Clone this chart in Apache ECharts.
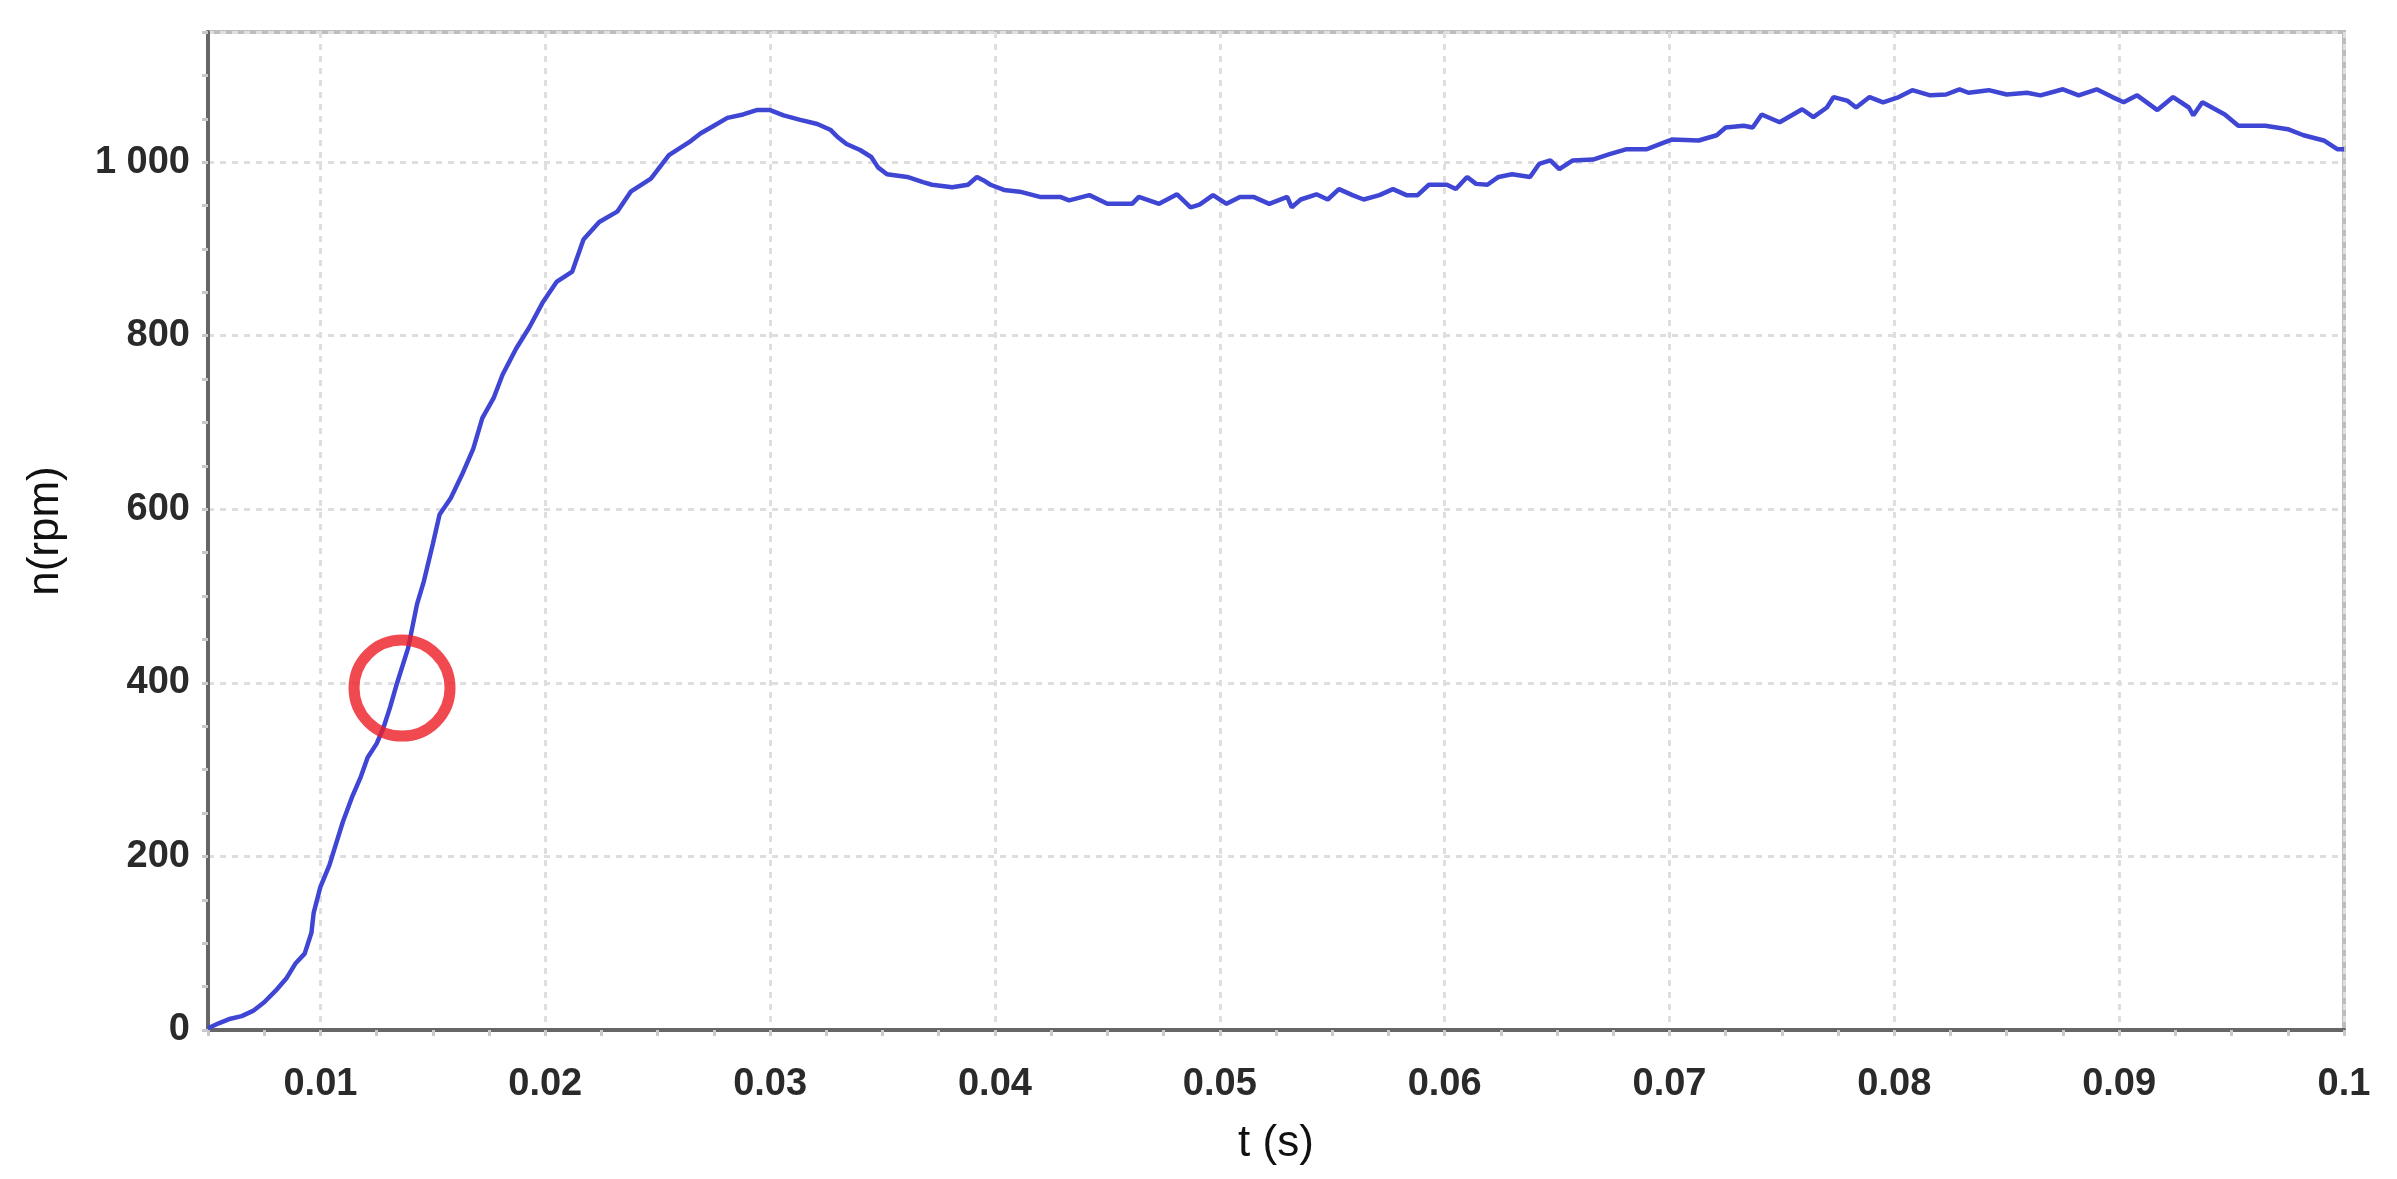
<!DOCTYPE html>
<html>
<head>
<meta charset="utf-8">
<script src="https://cdn.jsdelivr.net/npm/echarts@6/dist/echarts.min.js"></script>
<style>
  html, body { margin: 0; padding: 0; background: #fff; }
  #chart { width: 2397px; height: 1179px; }
</style>
</head>
<body>
<div id="chart"></div>
<script>
// time (s) and speed (rpm)
const tValues = [
  0.0050, 0.0055, 0.0060, 0.0065, 0.0070, 0.0075, 0.0080, 0.0085, 0.0089, 0.0093,
  0.0096, 0.0097, 0.0100, 0.0104, 0.0107, 0.0110, 0.0114, 0.0118, 0.0121, 0.0125,
  0.0128, 0.0131, 0.0134, 0.0139, 0.0143, 0.0146, 0.0150, 0.0153, 0.0158, 0.0163,
  0.0168, 0.0172, 0.0177, 0.0181, 0.0187, 0.0193, 0.0199, 0.0205, 0.0212, 0.0217,
  0.0224, 0.0232, 0.0238, 0.0247, 0.0255, 0.0264, 0.0269, 0.0275, 0.0281, 0.0288,
  0.0294, 0.0300, 0.0306, 0.0313, 0.0321, 0.0327, 0.0330, 0.0334, 0.0340, 0.0345,
  0.0348, 0.0352, 0.0361, 0.0368, 0.0372, 0.0381, 0.0388, 0.0392, 0.0395, 0.0398,
  0.0404, 0.0411, 0.0420, 0.0429, 0.0433, 0.0442, 0.0450, 0.0461, 0.0464, 0.0473,
  0.0481, 0.0487, 0.0491, 0.0497, 0.0503, 0.0509, 0.0515, 0.0522, 0.0530, 0.0532,
  0.0536, 0.0543, 0.0548, 0.0553, 0.0559, 0.0564, 0.0571, 0.0577, 0.0583, 0.0588,
  0.0593, 0.0601, 0.0605, 0.0610, 0.0614, 0.0619, 0.0624, 0.0630, 0.0638, 0.0642,
  0.0647, 0.0651, 0.0657, 0.0666, 0.0673, 0.0681, 0.0690, 0.0696, 0.0701, 0.0713,
  0.0721, 0.0725, 0.0733, 0.0737, 0.0741, 0.0749, 0.0755, 0.0759, 0.0764, 0.0770,
  0.0773, 0.0779, 0.0783, 0.0789, 0.0795, 0.0802, 0.0808, 0.0816, 0.0823, 0.0829,
  0.0833, 0.0842, 0.0850, 0.0859, 0.0865, 0.0875, 0.0882, 0.0890, 0.0897, 0.0902,
  0.0908, 0.0917, 0.0924, 0.0931, 0.0933, 0.0937, 0.0947, 0.0953, 0.0965, 0.0975,
  0.0982, 0.0991, 0.0997, 0.1000
]
const nValues = [
  2, 8, 13, 16, 22, 32, 45, 60, 77, 88,
  112, 135, 165, 190, 215, 240, 268, 292, 314, 330,
  348, 372, 399, 440, 491, 517, 560, 594, 613, 640,
  670, 705, 728, 755, 785, 810, 839, 862, 874, 911,
  931, 943, 966, 981, 1008, 1023, 1033, 1042, 1051, 1055,
  1060, 1060, 1054, 1049, 1044, 1037, 1029, 1021, 1014, 1006,
  994, 986, 983, 977, 974, 971, 974, 983, 979, 974,
  968, 966, 960, 960, 956, 962, 952, 952, 960, 952,
  963, 948, 951, 962, 952, 960, 960, 952, 960, 948,
  957, 963, 957, 969, 962, 957, 962, 969, 962, 962,
  974, 974, 969, 983, 975, 974, 983, 986, 983, 998,
  1002, 992, 1002, 1003, 1009, 1015, 1015, 1021, 1026, 1025,
  1031, 1040, 1042, 1040, 1055, 1046, 1055, 1061, 1052, 1063,
  1075, 1071, 1063, 1075, 1069, 1075, 1083, 1077, 1078, 1084,
  1080, 1083, 1078, 1080, 1077, 1084, 1077, 1084, 1075, 1069,
  1077, 1060, 1075, 1063, 1054, 1069, 1055, 1042, 1042, 1038,
  1031, 1025, 1015, 1015
]
// red marker circle around the point of interest
const circleMark = [[0.01363, 394]]

const xRange = [0.005, 0.1]
const yRange = [0, 1150]
const yStep = 200

const chart = echarts.init(document.getElementById('chart'), null, { renderer: 'canvas' })

const tickFont = { color: '#2a2a2a', fontSize: 38, fontWeight: 'bold', fontFamily: 'Liberation Sans' }
const gridLine = { show: true, lineStyle: { color: '#dedede', width: 3, type: [6, 6] } }
const minor = { show: true, splitNumber: 4, length: 6, lineStyle: { color: '#c8c8c8', width: 3 } }

chart.setOption({
  animation: false,
  backgroundColor: '#fff',
  grid: {
    left: 208, right: 53, top: 32, bottom: 149,
    show: true, borderColor: '#bdbdbd', borderWidth: 4,
  },
  xAxis: [{
    type: 'value',
    min: xRange[0],
    max: xRange[1],
    splitNumber: 10,
    name: 't (s)',
    nameLocation: 'middle',
    nameGap: 92,
    nameTextStyle: { color: '#111', fontSize: 44, fontFamily: 'Liberation Sans' },
    axisLine: { show: true, onZero: false, lineStyle: { color: '#666', width: 4 } },
    axisTick: { show: true, length: 6, lineStyle: { color: '#c8c8c8', width: 3 } },
    minorTick: minor,
    axisLabel: { ...tickFont, margin: 36, showMinLabel: false },
    splitLine: gridLine,
  }, {
    type: 'value',
    position: 'top',
    min: xRange[0],
    max: xRange[1],
    axisLine: { show: true, lineStyle: { color: '#666', width: 4 } },
    axisTick: { show: false },
    axisLabel: { show: false },
    splitLine: { show: false },
  }],
  yAxis: {
    type: 'value',
    min: yRange[0],
    max: yRange[1],
    interval: yStep,
    name: 'n(rpm)',
    nameLocation: 'middle',
    nameGap: 140,
    nameTextStyle: { color: '#111', fontSize: 44, fontFamily: 'Liberation Sans' },
    axisLine: { show: true, onZero: false, lineStyle: { color: '#666', width: 4 } },
    axisTick: { show: true, length: 6, lineStyle: { color: '#c8c8c8', width: 3 } },
    minorTick: minor,
    axisLabel: {
      ...tickFont,
      margin: 18,
      showMaxLabel: false,
      formatter: v => String(v).replace(/\B(?=(\d{3})+(?!\d))/g, ' '),
    },
    splitLine: gridLine,
  },
  series: [{
    type: 'line',
    data: tValues.map((t, i) => [t, nValues[i]]),
    showSymbol: false,
    lineStyle: { color: '#4046d4', width: 4.5 },
    z: 3,
  }, {
    type: 'scatter',
    data: circleMark,
    symbol: 'circle',
    symbolSize: 96,
    itemStyle: { color: 'rgba(0,0,0,0)', borderColor: '#ee1c24', borderWidth: 11 },
    z: 4,
  }],
})
</script>
</body>
</html>
